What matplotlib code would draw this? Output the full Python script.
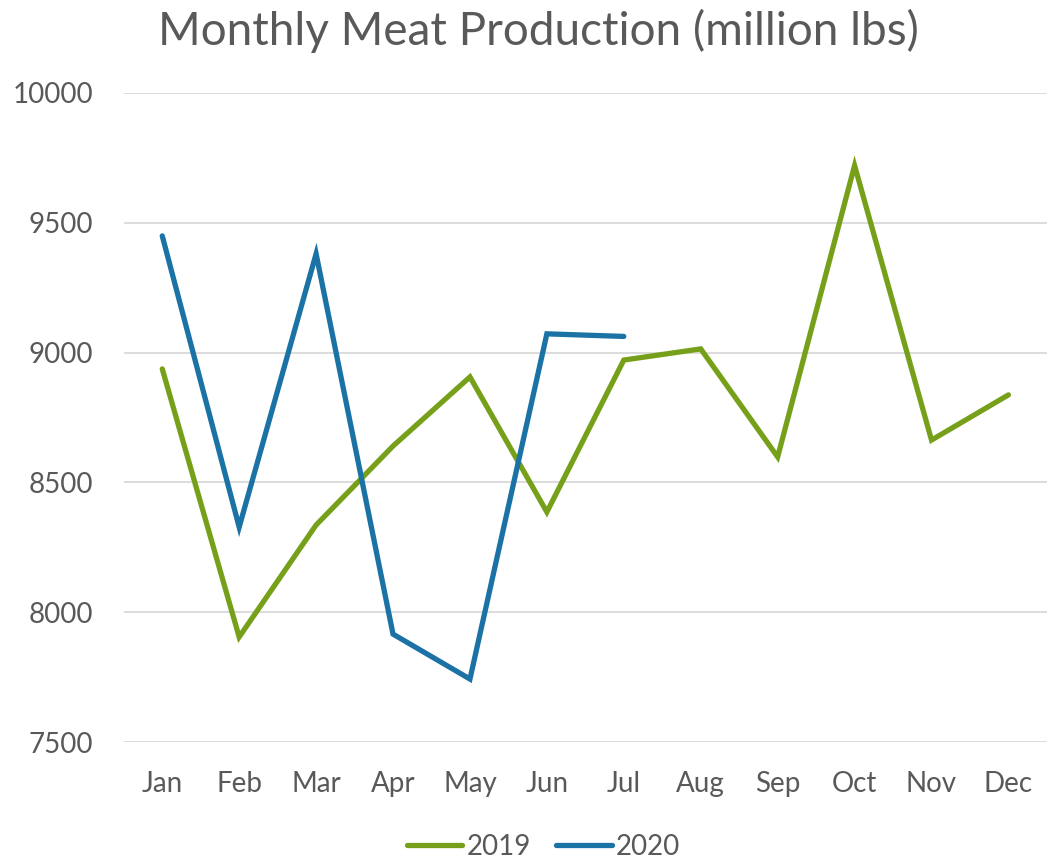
import matplotlib
matplotlib.use("Agg")
import matplotlib.pyplot as plt

months = ["Jan", "Feb", "Mar", "Apr", "May", "Jun", "Jul", "Aug", "Sep", "Oct", "Nov", "Dec"]
prod_2019 = [8937, 7905, 8336, 8640, 8906, 8386, 8971, 9014, 8598, 9720, 8663, 8837]
prod_2020 = [9449, 8328, 9380, 7916, 7743, 9072, 9062]

plt.rcParams['font.family'] = ['Lato', 'DejaVu Sans']
txt = '#595959'

fig = plt.figure(figsize=(10.49, 8.59), dpi=100)
ax = fig.add_axes([0.118, 0.136, 0.880, 0.756])

x19 = list(range(len(prod_2019)))
x20 = list(range(len(prod_2020)))
ax.plot(x19, prod_2019, color='#77A01A', lw=3.8, solid_capstyle='round', solid_joinstyle='miter', label='2019', zorder=3)
ax.plot(x20, prod_2020, color='#1B72A4', lw=3.8, solid_capstyle='round', solid_joinstyle='miter', label='2020', zorder=3)

ax.set_xlim(-0.5, 11.5)
ax.set_ylim(7500, 10000)
ax.set_yticks([7500, 8000, 8500, 9000, 9500, 10000])
ax.set_xticks(range(12))
ax.set_xticklabels(months)
ax.grid(axis='y', color='#D9D9D9', lw=1.3)
ax.set_axisbelow(True)
for s in ax.spines.values():
    s.set_visible(False)
ax.tick_params(length=0, labelsize=20, colors=txt)
ax.tick_params(axis='x', pad=21)
ax.tick_params(axis='y', pad=22)

fig.suptitle('Monthly Meat Production (million lbs)', x=0.513, y=0.99, fontsize=33, color=txt)
fig.legend(loc='lower center', bbox_to_anchor=(0.518, -0.03), ncol=2, frameon=False,
           fontsize=20, labelcolor=txt, handlelength=2.0, columnspacing=0.9, handletextpad=0.15)

fig.savefig('out.png', dpi=100)
